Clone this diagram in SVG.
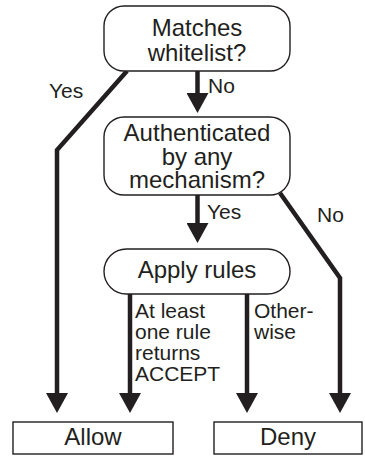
<svg xmlns="http://www.w3.org/2000/svg" width="365" height="464" viewBox="0 0 365 464">
<style>
.box{fill:#fff;stroke:#231f20;stroke-width:1.4}
.big{font-family:"Liberation Sans",Arial,sans-serif;font-size:24px;fill:#231f20;text-anchor:middle}
.sm{font-family:"Liberation Sans",Arial,sans-serif;font-size:21px;fill:#231f20}
.con{fill:none;stroke:#231f20;stroke-width:4.5;stroke-linejoin:miter}
</style>
<defs>
<marker id="ah" markerUnits="userSpaceOnUse" viewBox="0 0 20 22" markerWidth="20" markerHeight="22" refX="0" refY="11" orient="auto">
<path d="M0,0 L20,11 L0,22 Z" fill="#231f20"/>
</marker>
</defs>
<rect width="365" height="464" fill="#fff"/>
<g id="connectors">
<path class="con" d="M127,71 L57,150 L57,393" marker-end="url(#ah)"/>
<path class="con" d="M197.5,71 L197.5,93" marker-end="url(#ah)"/>
<path class="con" d="M197.5,195 L197.5,223" marker-end="url(#ah)"/>
<path class="con" d="M280,193 L340,278 L340,393" marker-end="url(#ah)"/>
<path class="con" d="M130,294 L130,393" marker-end="url(#ah)"/>
<path class="con" d="M247,294 L247,393" marker-end="url(#ah)"/>
<text class="sm" x="49" y="98">Yes</text>
<text class="sm" x="208" y="93">No</text>
<text class="sm" x="207" y="219">Yes</text>
<text class="sm" x="317" y="222">No</text>
<text class="sm" x="135" y="318">At least</text>
<text class="sm" x="135" y="339">one rule</text>
<text class="sm" x="135" y="360">returns</text>
<text class="sm" x="135" y="381">ACCEPT</text>
<text class="sm" x="254" y="318">Other-</text>
<text class="sm" x="254" y="339">wise</text>
</g>
<g id="whitelist">
<rect class="box" x="104" y="6" width="186" height="65" rx="20"/>
<text class="big" x="197" y="36">Matches</text>
<text class="big" x="197" y="61">whitelist?</text>
</g>
<g id="authenticated">
<rect class="box" x="104" y="117" width="186" height="78" rx="20"/>
<text class="big" x="197" y="141">Authenticated</text>
<text class="big" x="197" y="165">by any</text>
<text class="big" x="197" y="188">mechanism?</text>
</g>
<g id="apply">
<rect class="box" x="104" y="249" width="186" height="45" rx="22.5"/>
<text class="big" x="197" y="278">Apply rules</text>
</g>
<g id="allow">
<rect class="box" x="13" y="422" width="160" height="32"/>
<text class="big" x="93" y="445">Allow</text>
</g>
<g id="deny">
<rect class="box" x="214" y="422" width="148" height="32"/>
<text class="big" x="288" y="445">Deny</text>
</g>
</svg>
